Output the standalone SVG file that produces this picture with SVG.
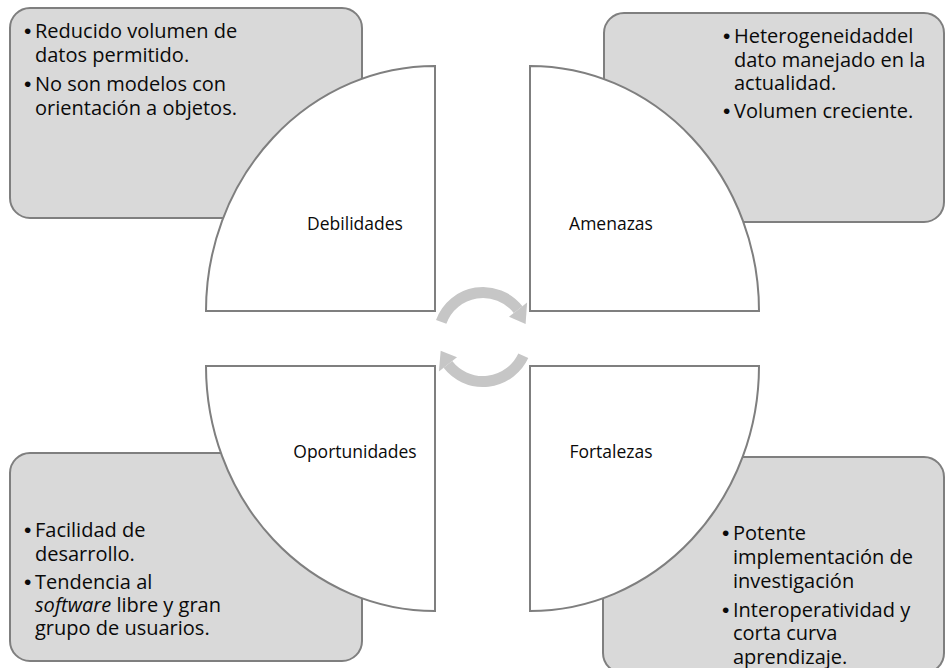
<svg xmlns="http://www.w3.org/2000/svg" width="946" height="668" viewBox="0 0 946 668">
<style>
.box{fill:#d9d9d9;stroke:#7f7f7f;stroke-width:2}
.quad{fill:#ffffff;stroke:#7f7f7f;stroke-width:2}
.body{font-family:"Open Sans","Noto Sans",sans-serif;font-size:20px;fill:#0a0a0a}
.bul{font-family:"Liberation Sans",Arial,sans-serif;font-size:21px}
.lab{font-family:"Open Sans","Noto Sans",sans-serif;font-size:17.5px;fill:#0a0a0a;text-anchor:middle}
.arr{fill:none;stroke:#c6c6c6;stroke-width:11}
.head{fill:#c6c6c6}
</style>
<rect width="946" height="668" fill="#ffffff"/>
<g id="box-debilidades">
<rect class="box" x="10" y="8" width="352" height="210" rx="20"/>
<text class="body" y="38"><tspan class="bul" x="24">•</tspan><tspan x="35">Reducido volumen de</tspan></text>
<text class="body" x="35" y="61.5">datos permitido.</text>
<text class="body" y="91"><tspan class="bul" x="24">•</tspan><tspan x="35">No son modelos con</tspan></text>
<text class="body" x="35" y="115">orientación a objetos.</text>
</g>
<g id="box-amenazas">
<rect class="box" x="604" y="13" width="340" height="209" rx="20"/>
<text class="body" y="43"><tspan class="bul" x="723">•</tspan><tspan x="734">Heterogeneidaddel</tspan></text>
<text class="body" x="734" y="66.5">dato manejado en la</text>
<text class="body" x="734" y="90">actualidad.</text>
<text class="body" y="118"><tspan class="bul" x="723">•</tspan><tspan x="734">Volumen creciente.</tspan></text>
</g>
<g id="box-oportunidades">
<rect class="box" x="10" y="453" width="352" height="208" rx="20"/>
<text class="body" y="537"><tspan class="bul" x="24">•</tspan><tspan x="35">Facilidad de</tspan></text>
<text class="body" x="35" y="561">desarrollo.</text>
<text class="body" y="589"><tspan class="bul" x="24">•</tspan><tspan x="35">Tendencia al</tspan></text>
<text class="body" x="35" y="612"><tspan font-style="italic">software</tspan> libre y gran</text>
<text class="body" x="35" y="635">grupo de usuarios.</text>
</g>
<g id="box-fortalezas">
<rect class="box" x="603" y="457" width="341" height="216" rx="20"/>
<text class="body" y="540"><tspan class="bul" x="722">•</tspan><tspan x="733">Potente</tspan></text>
<text class="body" x="733" y="564">implementación de</text>
<text class="body" x="733" y="588">investigación</text>
<text class="body" y="616.5"><tspan class="bul" x="722">•</tspan><tspan x="733">Interoperatividad y</tspan></text>
<text class="body" x="733" y="640">corta curva</text>
<text class="body" x="733" y="663.5">aprendizaje.</text>
</g>
<g id="q-debilidades">
<path class="quad" d="M435 311 L206 311 A229 245 0 0 1 435 66 Z"/>
<text class="lab" x="355" y="230">Debilidades</text>
</g>
<g id="q-amenazas">
<path class="quad" d="M530 311 L530 66 A229 245 0 0 1 759 311 Z"/>
<text class="lab" x="611" y="230">Amenazas</text>
</g>
<g id="q-oportunidades">
<path class="quad" d="M435 366 L435 611 A229 245 0 0 1 206 366 Z"/>
<text class="lab" x="355" y="458">Oportunidades</text>
</g>
<g id="q-fortalezas">
<path class="quad" d="M530 366 L759 366 A229 245 0 0 1 530 611 Z"/>
<text class="lab" x="611" y="458">Fortalezas</text>
</g>
<g id="connectors">
<path class="arr" d="M441.2 321.8 A44.5 44.5 0 0 1 518.1 309.6"/>
<polygon class="head" points="509,316.7 527.1,302.5 525.6,324"/>
<path class="arr" d="M523.3 355.8 A44.5 44.5 0 0 1 447.9 364.4"/>
<polygon class="head" points="457,357.3 438.9,371.5 440.7,350.8"/>
</g>
</svg>
